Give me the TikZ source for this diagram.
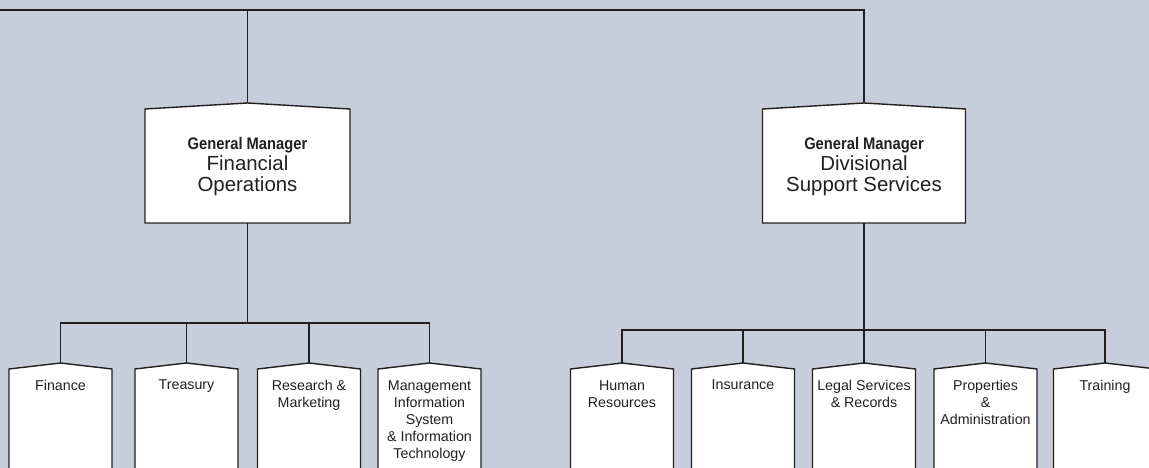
\documentclass[tikz,border=0pt]{standalone}
\usepackage{fontspec}
\setmainfont{Liberation Sans}
\newfontfamily\gmfont[FakeStretch=0.88]{Liberation Sans}
\definecolor{bg}{RGB}{198,205,219}
\definecolor{ink}{RGB}{35,31,32}
\tikzset{
  conn/.style={draw=ink, line width=1.4bp},
  boxshape/.style={draw=ink, line width=1.4bp, fill=white},
  boxtext/.style={anchor=north, inner sep=0pt, align=center, text=ink},
  mgrtext/.style={boxtext, font=\fontsize{20.5}{21.3}\selectfont},
  unittext/.style={boxtext, font=\fontsize{14.3}{17.3}\selectfont},
}
% #1 name, #2 centre x, #3 corner y, #4 bottom y, #5 half width, #6 text top y, #7 text style, #8 text
\newcommand\orgbox[8]{%
  \path[boxshape] ({#2-#5},#4) -- ({#2-#5},#3) -- (#2,{#3-6}) -- ({#2+#5},#3) -- ({#2+#5},#4) -- cycle;
  \coordinate (#1-top) at (#2,{#3-6});
  \coordinate (#1-bot) at (#2,#4);
  \node[#7] (#1) at (#2,#6) {#8};
}
\begin{document}
\begin{tikzpicture}[x=1bp,y=-1bp]
  \fill[bg] (0,0) rectangle (1149,468);
  \useasboundingbox (0,0) rectangle (1149,468);
  \clip (0,0) rectangle (1149,468);

  % managers
  \orgbox{fo}{247.5}{109}{223}{102.5}{137}{mgrtext}{{\gmfont\bfseries\fontsize{16.8}{21.3}\selectfont General Manager}\\Financial\\Operations}
  \orgbox{ds}{864}{109}{223}{101.5}{137}{mgrtext}{{\gmfont\bfseries\fontsize{16.8}{21.3}\selectfont General Manager}\\Divisional\\Support Services}

  % units left
  \orgbox{fin}{60.5}{369}{480}{51.5}{380}{unittext}{Finance}
  \orgbox{tre}{186.5}{369}{480}{51.5}{380}{unittext}{Treasury}
  \orgbox{res}{309}{369}{480}{51.5}{380}{unittext}{Research \&\\Marketing}
  \orgbox{mis}{429.5}{369}{480}{51.5}{380}{unittext}{Management\\Information\\System\\\& Information\\Technology}
  % units right
  \orgbox{hr}{622}{369}{480}{51.5}{380}{unittext}{Human\\Resources}
  \orgbox{ins}{743}{369}{480}{51.5}{380}{unittext}{Insurance}
  \orgbox{leg}{864}{369}{480}{51.5}{380}{unittext}{Legal Services\\\& Records}
  \orgbox{pro}{985.5}{369}{480}{51.5}{380}{unittext}{Properties\\\&\\Administration}
  \orgbox{trn}{1105}{369}{480}{51.5}{380}{unittext}{Training}

  % connectors
  \coordinate (topstart) at (0,10);
  \coordinate (topjoin) at (247.5,10);
  \coordinate (lbar) at (247.5,323);
  \coordinate (rbar) at (864,330);

  \draw[conn] (topstart) -| (ds-top);
  \draw[conn] (topjoin) -- (fo-top);
  \draw[conn] (fo-bot) -- (lbar);
  \draw[conn] (ds-bot) -- (rbar);
  \foreach \u in {fin,tre,res,mis} \draw[conn] (\u-top) |- (lbar);
  \foreach \u in {hr,ins,leg,pro,trn} \draw[conn] (\u-top) |- (rbar);
\end{tikzpicture}
\end{document}
